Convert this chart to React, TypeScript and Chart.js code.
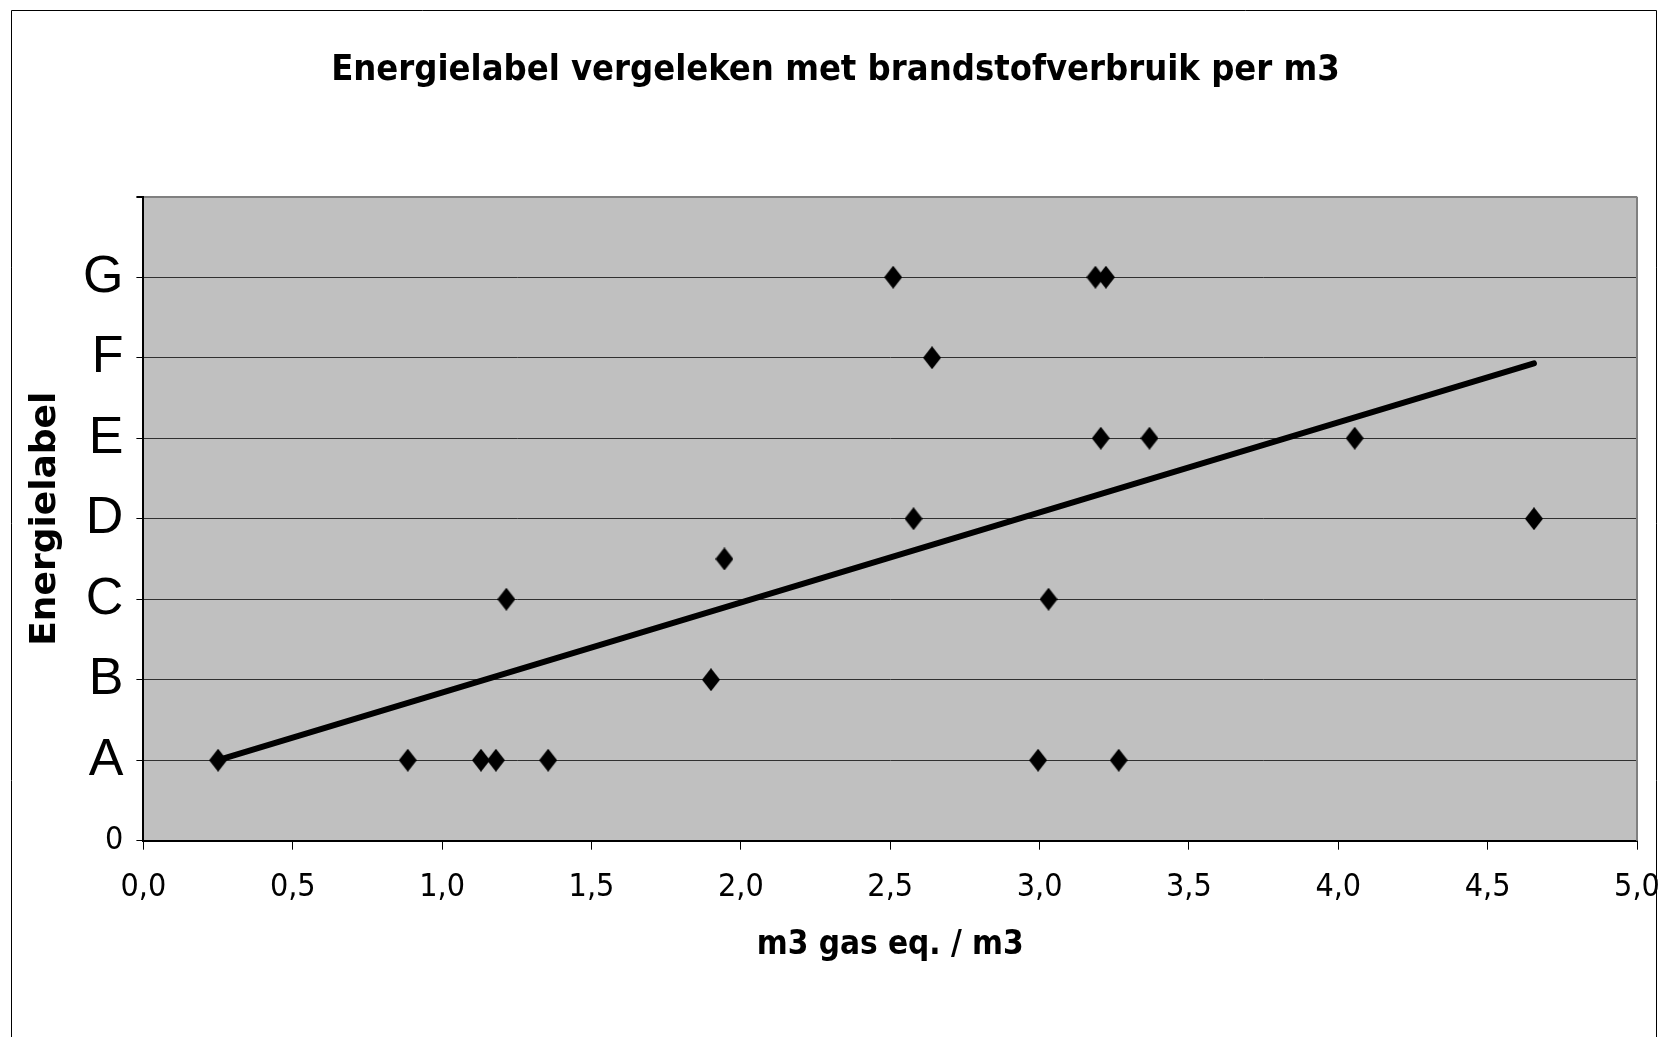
import React, { useEffect, useRef } from 'react';
import { Chart, registerables } from 'chart.js';

Chart.register(...registerables);

// Scatter points (x = m3 gas eq. / m3, y = energielabel index: A=1 ... G=7)
const pointX = [0.25, 0.885, 1.13, 1.18, 1.355, 2.995, 3.265, 1.9, 1.215, 3.03, 1.945, 2.578, 4.655, 3.205, 3.368, 4.055, 2.64, 2.51, 3.187, 3.222];
const pointY = [1, 1, 1, 1, 1, 1, 1, 2, 3, 3, 3.5, 4, 4, 5, 5, 5, 6, 7, 7, 7];

// Linear trend line end points
const trendX = [0.25, 4.655];
const trendY = [1.0, 5.93];

const yTickLabels = ['0', 'A', 'B', 'C', 'D', 'E', 'F', 'G', ''];

const chartTitle = 'Energielabel vergeleken met brandstofverbruik per m3';
const xTitle = 'm3 gas eq. / m3';
const yTitle = 'Energielabel';

const NARROW = "'Liberation Sans Narrow', 'DejaVu Sans Condensed', 'Liberation Sans', Arial, sans-serif";
const SANS = "'Liberation Sans', Arial, sans-serif";

function makeDiamond(w: number, h: number) {
  const c = document.createElement('canvas');
  c.width = w;
  c.height = h;
  const g = c.getContext('2d')!;
  g.fillStyle = '#000';
  g.beginPath();
  g.moveTo(w / 2, 0);
  g.lineTo(w, h / 2);
  g.lineTo(w / 2, h);
  g.lineTo(0, h / 2);
  g.closePath();
  g.fill();
  return c;
}

const bgPlugin = {
  id: 'bgPlugin',
  beforeDraw(chart: any) {
    const { ctx, chartArea } = chart;
    ctx.save();
    ctx.fillStyle = '#fff';
    ctx.fillRect(0, 0, chart.width, chart.height);
    ctx.fillStyle = '#c0c0c0';
    ctx.fillRect(chartArea.left, chartArea.top, chartArea.right - chartArea.left, chartArea.bottom - chartArea.top);
    // outer frame
    ctx.strokeStyle = '#000';
    ctx.lineWidth = 1;
    ctx.beginPath();
    ctx.moveTo(11.5, chart.height);
    ctx.lineTo(11.5, 10.5);
    ctx.lineTo(1656.5, 10.5);
    ctx.lineTo(1656.5, chart.height);
    ctx.stroke();
    ctx.restore();
  },
  beforeDatasetsDraw(chart: any) {
    const { ctx, chartArea } = chart;
    ctx.save();
    ctx.strokeStyle = '#808080';
    ctx.lineWidth = 2;
    ctx.beginPath();
    ctx.moveTo(chartArea.right, chartArea.top);
    ctx.lineTo(chartArea.right, chartArea.bottom);
    ctx.stroke();
    ctx.restore();
  },
};

export default function App() {
  const ref = useRef<HTMLCanvasElement | null>(null);

  useEffect(() => {
    if (!ref.current) return;
    const diamond = makeDiamond(18, 23);
    const chart = new Chart(ref.current, {
      type: 'scatter',
      data: {
        datasets: [
          {
            label: 'trend',
            data: trendX.map((x, i) => ({ x, y: trendY[i] })),
            showLine: true,
            borderColor: '#000',
            borderWidth: 6,
            borderCapStyle: 'round',
            pointRadius: 0,
            pointHoverRadius: 0,
          } as any,
          {
            label: 'data',
            data: pointX.map((x, i) => ({ x, y: pointY[i] })),
            pointStyle: diamond as any,
            pointRadius: 10,
            backgroundColor: '#000',
            borderColor: '#000',
          },
        ],
      },
      options: {
        responsive: false,
        animation: false,
        devicePixelRatio: 1,
        layout: { padding: { left: 34, right: 22, top: 0, bottom: 0 } },
        plugins: {
          legend: { display: false },
          tooltip: { enabled: false },
          title: {
            display: true,
            text: chartTitle,
            color: '#000',
            font: { family: NARROW, size: 36, weight: 'bold' },
            padding: { top: 49, bottom: 104.5 },
          },
        },
        scales: {
          x: {
            type: 'linear',
            position: 'bottom',
            min: 0,
            max: 5,
            afterFit(s: any) {
              s.height = 196.3;
              s.paddingLeft = 0;
              s.paddingRight = 0;
            },
            ticks: {
              stepSize: 0.5,
              autoSkip: false,
              maxRotation: 0,
              color: '#000',
              padding: 19,
              font: { family: NARROW, size: 32 },
              callback: (v: any) => Number(v).toFixed(1).replace('.', ','),
            },
            grid: {
              drawOnChartArea: false,
              drawTicks: true,
              tickLength: 9,
              color: '#000',
              tickColor: '#000',
            },
            border: { display: true, color: '#000', width: 2 },
            title: {
              display: true,
              text: xTitle,
              color: '#000',
              font: { family: NARROW, size: 33, weight: 'bold' },
              padding: { top: 0, bottom: 72 },
            },
          },
          y: {
            type: 'linear',
            min: 0,
            max: 8,
            afterFit(s: any) {
              s.width = 109.4;
              s.paddingTop = 0;
              s.paddingBottom = 0;
            },
            ticks: {
              stepSize: 1,
              autoSkip: false,
              color: '#000',
              padding: 13,
              font: (c: any) =>
                c.tick && c.tick.value === 0
                  ? { family: NARROW, size: 32 }
                  : { family: SANS, size: 52 },
              callback: (v: any) => yTickLabels[Math.round(Number(v))] ?? '',
            },
            grid: {
              drawOnChartArea: true,
              tickLength: 7,
              color: (c: any) => (c.tick && c.tick.value === 8 ? '#808080' : '#303030'),
              lineWidth: (c: any) => (c.tick && c.tick.value === 8 ? 2 : 1),
              tickColor: '#000',
            },
            border: { display: true, color: '#000', width: 2 },
            title: {
              display: true,
              text: yTitle,
              color: '#000',
              font: { family: "'DejaVu Sans', sans-serif", size: 36, weight: 'bold' },
              padding: { top: -10, bottom: 0 },
            },
          },
        },
      },
      plugins: [bgPlugin],
    });
    return () => chart.destroy();
  }, []);

  return (
    <div style={{ position: 'absolute', left: 0, top: 0, width: 1659, height: 1037, background: '#fff' }}>
      <canvas ref={ref} width={1659} height={1037} style={{ display: 'block', width: 1659, height: 1037 }} />
    </div>
  );
}
